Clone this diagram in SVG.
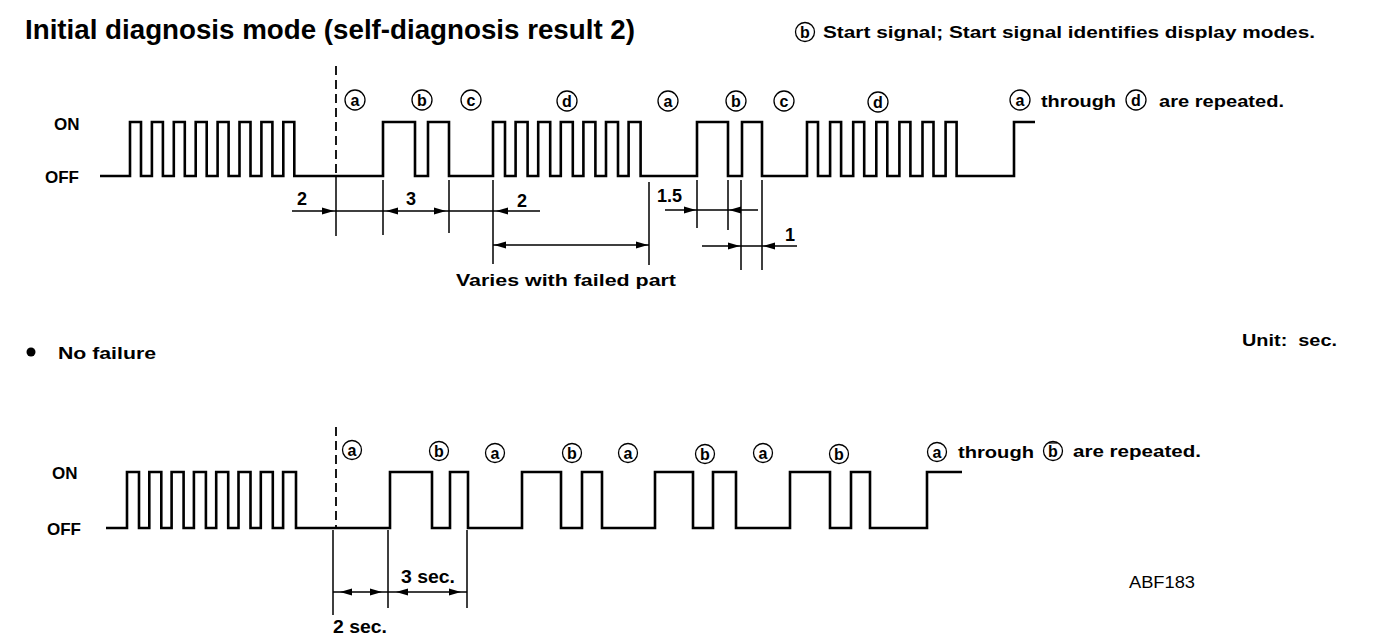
<svg xmlns="http://www.w3.org/2000/svg" width="1376" height="644" viewBox="0 0 1376 644">
<defs>
<style>
.wave{fill:none;stroke:#000;stroke-width:2.6;stroke-linejoin:miter}
.ext{fill:none;stroke:#000;stroke-width:1.5}
.dash{fill:none;stroke:#000;stroke-width:1.8;stroke-dasharray:9 5}
.ah{fill:#000}
.t{font-family:"Liberation Sans",Arial,sans-serif;font-weight:bold;fill:#000}
.lbl{font-family:"Liberation Sans",Arial,sans-serif;font-weight:bold;font-size:16px;fill:#000;text-anchor:middle}
.circ{fill:none;stroke:#000;stroke-width:1.3}
</style>
<path id="ar" d="M0,0 L-12,-3.5 L-12,3.5 Z"/>
<path id="al" d="M0,0 L12,-3.5 L12,3.5 Z"/>
</defs>
<rect width="1376" height="644" fill="#fff"/>

<g id="title">
<text class="t" x="25" y="39" font-size="28" textLength="610" lengthAdjust="spacingAndGlyphs">Initial diagnosis mode (self-diagnosis result 2)</text>
</g>
<g id="legend">
<circle class="circ" cx="805" cy="32" r="9.5"/>
<text class="lbl" x="805" y="38">b</text>
<text class="t" x="823" y="38" font-size="16" textLength="492" lengthAdjust="spacingAndGlyphs">Start signal; Start signal identifies display modes.</text>
</g>

<!-- TOP CHART -->
<g id="top-axis">
<text class="t" x="54" y="130" font-size="17">ON</text>
<text class="t" x="45" y="183" font-size="17">OFF</text>
</g>
<g id="top-wave">
<path class="wave" d="M100,176 H130 V122 H141 V176 H151.9 V122 H162.9 V176 H173.8 V122 H184.8 V176 H195.7 V122 H206.7 V176 H217.6 V122 H228.6 V176 H239.5 V122 H250.5 V176 H261.4 V122 H272.4 V176 H283.3 V122 H294.3 V176 H383 V122 H415 V176 H428 V122 H449 V176 H493 V122 H505 V176 H515.6 V122 H527.6 V176 H538.2 V122 H550.2 V176 H560.8 V122 H572.8 V176 H583.4 V122 H595.4 V176 H606 V122 H618 V176 H628.6 V122 H640.6 V176 H697 V122 H728 V176 H742 V122 H762 V176 H807 V122 H818 V176 H830.1 V122 H841.1 V176 H853.2 V122 H864.2 V176 H876.3 V122 H887.3 V176 H899.4 V122 H910.4 V176 H922.5 V122 H933.5 V176 H945.6 V122 H956.6 V176 H1014 V122 H1035"/>
<line class="dash" x1="336" y1="66" x2="336" y2="176"/>
</g>
<g id="top-labels">
<circle class="circ" cx="355" cy="100" r="10"/><text class="lbl" x="355" y="106">a</text>
<circle class="circ" cx="422" cy="100" r="10"/><text class="lbl" x="422" y="106">b</text>
<circle class="circ" cx="471" cy="100" r="10"/><text class="lbl" x="471" y="106">c</text>
<circle class="circ" cx="567" cy="101" r="10"/><text class="lbl" x="567" y="107">d</text>
<circle class="circ" cx="668" cy="101" r="10"/><text class="lbl" x="668" y="107">a</text>
<circle class="circ" cx="736" cy="101" r="10"/><text class="lbl" x="736" y="107">b</text>
<circle class="circ" cx="784" cy="101" r="10"/><text class="lbl" x="784" y="107">c</text>
<circle class="circ" cx="878" cy="102" r="10"/><text class="lbl" x="878" y="108">d</text>
<circle class="circ" cx="1020" cy="100" r="10"/><text class="lbl" x="1020" y="106">a</text>
<text class="t" x="1041" y="107" font-size="17" textLength="75" lengthAdjust="spacingAndGlyphs">through</text>
<circle class="circ" cx="1136" cy="100" r="10"/><text class="lbl" x="1136" y="106">d</text>
<text class="t" x="1159" y="107" font-size="17" textLength="125" lengthAdjust="spacingAndGlyphs">are repeated.</text>
</g>
<g id="top-dims">
<path class="ext" d="M336,176 V236 M383,180 V235 M449,180 V233 M493,180 V264 M649,182 V265 M697,180 V228 M728,180 V230 M741,180 V270 M762,180 V270"/>
<path class="ext" d="M292,211 H540 M493,245 H649 M665,210 H758 M702,246 H797"/>
<use href="#ar" class="ah" x="334" y="211"/>
<use href="#al" class="ah" x="386" y="211"/>
<use href="#ar" class="ah" x="446" y="211"/>
<use href="#al" class="ah" x="496" y="211"/>
<use href="#al" class="ah" x="494" y="245"/>
<use href="#ar" class="ah" x="648" y="245"/>
<use href="#ar" class="ah" x="696" y="210"/>
<use href="#al" class="ah" x="729" y="210"/>
<use href="#ar" class="ah" x="740" y="246"/>
<use href="#al" class="ah" x="763" y="246"/>
<text class="t" x="297" y="205" font-size="18">2</text>
<text class="t" x="406" y="205" font-size="18">3</text>
<text class="t" x="517" y="207" font-size="18">2</text>
<text class="t" x="657" y="202" font-size="18">1.5</text>
<text class="t" x="785" y="241" font-size="18">1</text>
<text class="t" x="566" y="286" font-size="17" text-anchor="middle" textLength="220" lengthAdjust="spacingAndGlyphs">Varies with failed part</text>
</g>

<g id="notes">
<circle cx="31" cy="352" r="4.5" fill="#000"/>
<text class="t" x="58" y="359" font-size="17" textLength="98" lengthAdjust="spacingAndGlyphs">No failure</text>
<text class="t" x="1242" y="346" font-size="17" textLength="95" lengthAdjust="spacingAndGlyphs" xml:space="preserve">Unit:  sec.</text>
<text x="1129" y="588" font-family="Liberation Sans,Arial,sans-serif" font-size="16" fill="#000" textLength="66" lengthAdjust="spacingAndGlyphs">ABF183</text>
</g>

<!-- BOTTOM CHART -->
<g id="bottom-axis">
<text class="t" x="52" y="479" font-size="17">ON</text>
<text class="t" x="47" y="535" font-size="17">OFF</text>
</g>
<g id="bottom-wave">
<path class="wave" d="M106,528 H127 V472 H139 V528 H149.3 V472 H161.3 V528 H171.6 V472 H183.6 V528 H193.9 V472 H205.9 V528 H216.2 V472 H228.2 V528 H238.5 V472 H250.5 V528 H260.8 V472 H272.8 V528 H283.1 V472 H296 V528 H390 V472 H432 V528 H450 V472 H468 V528 H522 V472 H561 V528 H582 V472 H602 V528 H655 V472 H693 V528 H713 V472 H736 V528 H790 V472 H830 V528 H851 V472 H870 V528 H927 V472 H962"/>
<line class="dash" x1="336" y1="427" x2="336" y2="528"/>
</g>
<g id="bottom-labels">
<circle class="circ" cx="352" cy="450" r="9.5"/><text class="lbl" x="352" y="456">a</text>
<circle class="circ" cx="439" cy="451" r="9.5"/><text class="lbl" x="439" y="457">b</text>
<circle class="circ" cx="495" cy="453" r="9.5"/><text class="lbl" x="495" y="459">a</text>
<circle class="circ" cx="572" cy="453" r="9.5"/><text class="lbl" x="572" y="459">b</text>
<circle class="circ" cx="628" cy="453" r="9.5"/><text class="lbl" x="628" y="459">a</text>
<circle class="circ" cx="705" cy="454" r="9.5"/><text class="lbl" x="705" y="460">b</text>
<circle class="circ" cx="763" cy="453" r="9.5"/><text class="lbl" x="763" y="459">a</text>
<circle class="circ" cx="839" cy="454" r="9.5"/><text class="lbl" x="839" y="460">b</text>
<circle class="circ" cx="937" cy="452" r="9.5"/><text class="lbl" x="937" y="458">a</text>
<text class="t" x="958" y="458" font-size="17" textLength="76" lengthAdjust="spacingAndGlyphs">through</text>
<circle class="circ" cx="1053" cy="451" r="9.5"/><text class="lbl" x="1053" y="457">b</text>
<line x1="1049" y1="443" x2="1057" y2="443" stroke="#000" stroke-width="1.2"/>
<text class="t" x="1073" y="457" font-size="17" textLength="128" lengthAdjust="spacingAndGlyphs">are repeated.</text>
</g>
<g id="bottom-dims">
<path class="ext" d="M333,530 V615 M388,530 V608 M467,530 V608 M333,592 H467"/>
<use href="#al" class="ah" x="340" y="592"/>
<use href="#ar" class="ah" x="382" y="592"/>
<use href="#al" class="ah" x="396" y="592"/>
<use href="#ar" class="ah" x="461" y="592"/>
<text class="t" x="401" y="583" font-size="18" textLength="54" lengthAdjust="spacingAndGlyphs">3 sec.</text>
<text class="t" x="333" y="633" font-size="18" textLength="54" lengthAdjust="spacingAndGlyphs">2 sec.</text>
</g>
</svg>
